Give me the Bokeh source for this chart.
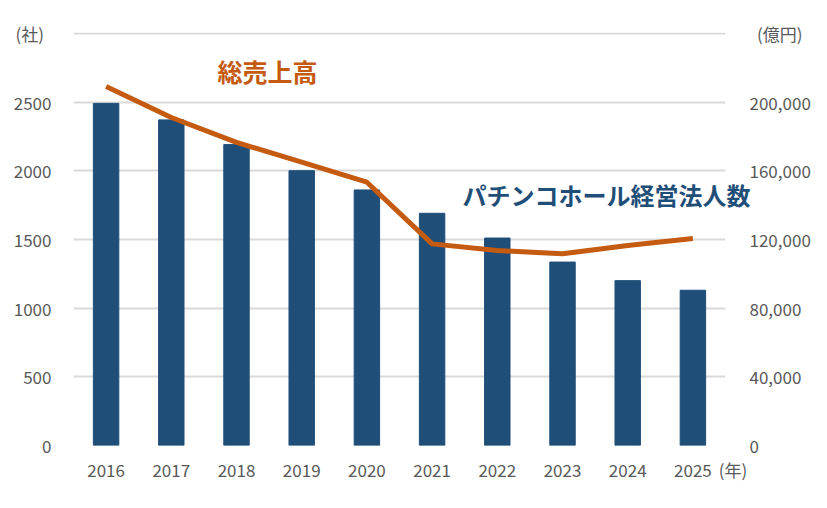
from bokeh.plotting import figure
from bokeh.models import Range1d, LinearAxis, FixedTicker, NumeralTickFormatter, Label
from bokeh.embed import file_html
from bokeh.resources import INLINE

years = [2016, 2017, 2018, 2019, 2020, 2021, 2022, 2023, 2024, 2025]
year_labels = ["2016", "2017", "2018", "2019", "2020", "2021", "2022", "2023", "2024", "2025"]
companies = [2490, 2370, 2190, 2000, 1860, 1690, 1510, 1335, 1200, 1130]   # 社
sales = [209000, 191000, 176500, 165000, 153300, 117400, 113500, 111600, 116500, 120500]  # 億円

FONT = "Noto Sans CJK JP"
GRAY = "#595959"
BLUE = "#1F4E79"
ORANGE = "#C55A11"
NB = "\u00a0"

W, H = 819, 500
p = figure(width=W, height=H, output_backend="svg", toolbar_location=None,
           x_range=Range1d(2015.5, 2025.5), y_range=Range1d(0, 3006),
           min_border_left=73, min_border_right=94, min_border_top=32, min_border_bottom=55)
p.outline_line_color = None
p.background_fill_color = "white"
p.border_fill_color = "white"

p.extra_y_ranges = {"sales": Range1d(0, 240480)}

p.vbar(x=years, top=companies, width=0.39, color=BLUE)
p.line(x=years, y=sales, y_range_name="sales", line_color=ORANGE, line_width=5, line_join="round")

# bottom axis: years plus the unit "(年)" at the right end
YEAR_UNIT_POS = 2025.5
xa = p.xaxis[0]
xa.ticker = FixedTicker(ticks=years + [YEAR_UNIT_POS])
ov = {y: s for y, s in zip(years, year_labels)}
ov[YEAR_UNIT_POS] = NB * 4 + "(年)"
xa.major_label_overrides = ov

ya = p.yaxis[0]
ya.ticker = FixedTicker(ticks=[0, 500, 1000, 1500, 2000, 2500, 3000])
ya.major_label_overrides = {3000: "(社)" + NB * 2}

ra = LinearAxis(y_range_name="sales",
                ticker=FixedTicker(ticks=[0, 40000, 80000, 120000, 160000, 200000, 240000]),
                formatter=NumeralTickFormatter(format="0,0"))
ra.major_label_overrides = {240000: NB * 2 + "(億円)"}
p.add_layout(ra, "right")

for ax in [xa, ya, ra]:
    ax.axis_line_color = None
    ax.major_tick_line_color = None
    ax.minor_tick_line_color = None
    ax.major_label_text_font = FONT
    ax.major_label_text_font_size = "17px"
    ax.major_label_text_color = GRAY
ya.major_label_standoff = 16
ra.major_label_standoff = 18
xa.major_label_standoff = 5

p.xgrid.grid_line_color = None
p.ygrid.grid_line_color = "#D9D9D9"
p.ygrid.grid_line_width = 2

# series name for the bars: an axis label drawn back into the plot so it can overflow the frame
BAR_NAME_POS = 2023.675
ta = LinearAxis(ticker=FixedTicker(ticks=[BAR_NAME_POS]),
                major_label_overrides={BAR_NAME_POS: "パチンコホール経営法人数"})
ta.axis_line_color = None
ta.major_tick_line_color = None
ta.minor_tick_line_color = None
ta.major_label_text_font = FONT
ta.major_label_text_font_size = "24px"
ta.major_label_text_font_style = "bold"
ta.major_label_text_color = BLUE
ta.major_label_standoff = -185
p.add_layout(ta, "above")

p.add_layout(Label(x=2018.475, y=2729, text="総売上高", text_font=FONT, text_font_size="25px",
                   text_color=ORANGE, text_align="center", text_baseline="middle",
                   text_font_style="bold"))

open("out.html", "w").write(file_html(p, INLINE))
